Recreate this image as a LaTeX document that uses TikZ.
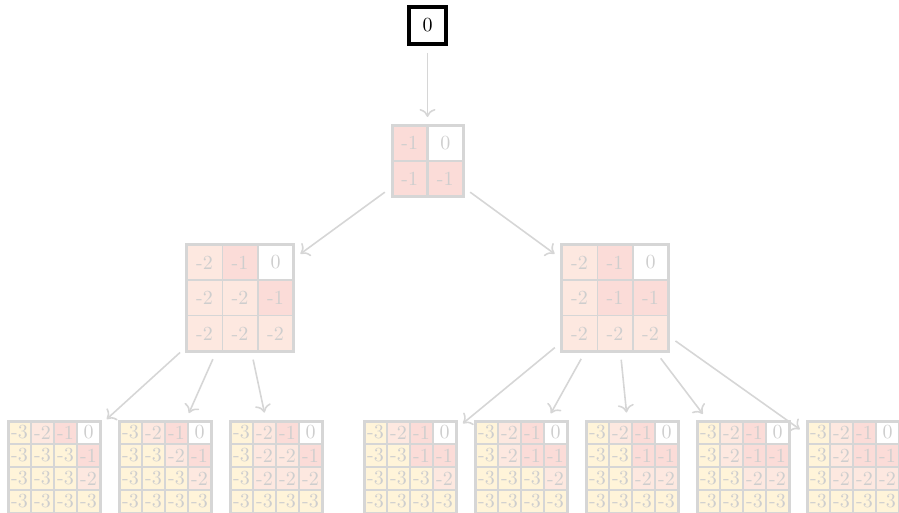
\documentclass[tikz,border=0pt]{standalone}
\usetikzlibrary{arrows.meta}

\definecolor{val0}{RGB}{255,255,255}
\definecolor{val1}{RGB}{251,220,216}
\definecolor{val2}{RGB}{253,232,224}
\definecolor{val3}{RGB}{255,244,217}
\definecolor{gridgray}{RGB}{214,214,214}
\definecolor{numgray}{RGB}{206,206,206}

% #1 name, #2 centre, #3 cells per side, #4 cell size, #5 rows of values
\newcommand{\valgrid}[5]{%
  \begin{scope}[shift={#2}]
    \foreach \row [count=\i] in {#5} {
      \foreach \val [count=\j] in \row {
        \pgfmathtruncatemacro{\lvl}{abs(\val)}
        \node[cell, fill=val\lvl, minimum size=#4*0.5pt] (#1-\i-\j)
          at ({(\j-(#3+1)/2)*#4}, {(\i-(#3+1)/2)*#4}) {\val};
      }
    }
    \draw[sepline] (#1-1-1.south west) -- (#1-1-#3.south east);
    \draw[sepline] (#1-1-#3.north west) -- (#1-#3-#3.south west);
    \node[gridframe, minimum size=#3*#4*0.5pt] (#1) at (0,0) {};
  \end{scope}
}

\begin{document}
\begin{tikzpicture}[
		x=0.5pt, y=-0.5pt,
		cell/.style={draw=gridgray, line width=0.6pt, inner sep=0pt, outer sep=0pt, text=numgray},
		gridframe/.style={draw=gridgray, line width=1.5pt, inner sep=0pt},
		sepline/.style={draw=gridgray, line width=1.1pt},
		topbox/.style={draw=black, line width=2pt, minimum size=18.5pt, inner sep=0pt},
		link/.style={draw=gridgray, line width=0.8pt, -{To[length=4pt,width=8pt]},
			shorten <=3.5pt, shorten >=3.5pt}
		]
		\useasboundingbox (0,0) rectangle (899,513);

		\node[topbox] (root) at (427.5,25.5) {0};

		\valgrid{g}{(427.5,161)}{2}{35.5}{{-1,0},{-1,-1}}

		\valgrid{gl}{(240,298)}{3}{35.5}{{-2,-1,0},{-2,-2,-1},{-2,-2,-2}}
		\valgrid{gr}{(615,298)}{3}{35.5}{{-2,-1,0},{-2,-1,-1},{-2,-2,-2}}

		\valgrid{b1}{(54,467)}{4}{23}{{-3,-2,-1,0},{-3,-3,-3,-1},{-3,-3,-3,-2},{-3,-3,-3,-3}}
		\valgrid{b2}{(165,467)}{4}{23}{{-3,-2,-1,0},{-3,-3,-2,-1},{-3,-3,-3,-2},{-3,-3,-3,-3}}
		\valgrid{b3}{(276,467)}{4}{23}{{-3,-2,-1,0},{-3,-2,-2,-1},{-3,-2,-2,-2},{-3,-3,-3,-3}}
		\valgrid{b4}{(410,467)}{4}{23}{{-3,-2,-1,0},{-3,-3,-1,-1},{-3,-3,-3,-2},{-3,-3,-3,-3}}
		\valgrid{b5}{(521,467)}{4}{23}{{-3,-2,-1,0},{-3,-2,-1,-1},{-3,-3,-3,-2},{-3,-3,-3,-3}}
		\valgrid{b6}{(632,467)}{4}{23}{{-3,-2,-1,0},{-3,-3,-1,-1},{-3,-3,-2,-2},{-3,-3,-3,-3}}
		\valgrid{b7}{(743,467)}{4}{23}{{-3,-2,-1,0},{-3,-2,-1,-1},{-3,-3,-2,-2},{-3,-3,-3,-3}}
		\valgrid{b8}{(853,467)}{4}{23}{{-3,-2,-1,0},{-3,-2,-1,-1},{-3,-2,-2,-2},{-3,-3,-3,-3}}

		\draw[link] (root) -- (g);
		\draw[link] (g) -- (gl);
		\draw[link] (g) -- (gr);
		\foreach \b in {b1,b2,b3} \draw[link] (gl) -- (\b);
		\foreach \b in {b4,b5,b6,b7,b8} \draw[link] (gr) -- (\b);
	\end{tikzpicture}
\end{document}
